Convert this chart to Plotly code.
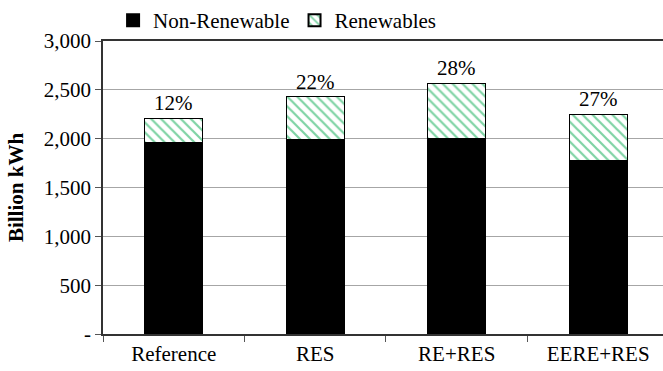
import plotly.graph_objects as go

# Electricity generation by scenario (billion kWh)
categories = ["Reference", "RES", "RE+RES", "EERE+RES"]
non_renewable = [1960, 1990, 2005, 1775]
renewables = [250, 440, 562, 475]
share_labels = ["12%", "22%", "28%", "27%"]

y_tick_vals = [0, 500, 1000, 1500, 2000, 2500, 3000]
y_tick_text = ["-", "500", "1,000", "1,500", "2,000", "2,500", "3,000"]

FONT = "Liberation Serif, Times New Roman, serif"
FS = 21

fig = go.Figure()
fig.add_trace(go.Bar(
    x=categories, y=non_renewable, name="Non-Renewable",
    marker=dict(color="black", line=dict(color="black", width=1)),
))
fig.add_trace(go.Bar(
    x=categories, y=renewables, name="Renewables",
    marker=dict(
        color="white",
        line=dict(color="black", width=1),
        pattern=dict(shape="\\", fgcolor="#00a84a", bgcolor="white",
                     size=7, solidity=0.32),
    ),
))

totals = [a + b for a, b in zip(non_renewable, renewables)]
for cat, tot, lab in zip(categories, totals, share_labels):
    fig.add_annotation(x=cat, y=tot, text=lab, showarrow=False,
                       yanchor="bottom", yshift=1,
                       font=dict(family=FONT, size=FS, color="black"))

fig.update_layout(
    width=663, height=371,
    margin=dict(l=103, r=0, t=39, b=37),
    paper_bgcolor="white", plot_bgcolor="white",
    barmode="stack", bargap=0.59,
    font=dict(family=FONT, size=FS, color="black"),
    showlegend=True,
    legend=dict(orientation="h", traceorder="normal",
                x=0.018, xanchor="left", y=1.07, yanchor="middle",
                font=dict(family=FONT, size=FS, color="black"),
                bgcolor="rgba(0,0,0,0)", itemsizing="constant"),
    xaxis=dict(
        range=[-0.5, 3.458], tickson="boundaries", ticks="outside", ticklen=6,
        tickcolor="#555555", showline=True, linecolor="#333333", linewidth=1.5,
        mirror=True, showgrid=False,
        tickfont=dict(family=FONT, size=FS, color="black"),
    ),
    yaxis=dict(
        range=[0, 3000], tickvals=y_tick_vals, ticktext=y_tick_text,
        ticks="outside", ticklen=6, tickcolor="#555555",
        showline=True, linecolor="#333333", linewidth=1.5,
        showgrid=True, gridcolor="#a6a6a6", gridwidth=1,
        zeroline=False,
        tickfont=dict(family=FONT, size=FS, color="black"),
        title=dict(text="<b>Billion kWh</b>", font=dict(family=FONT, size=FS, color="black"),
                   standoff=14),
    ),
)

fig.write_html("out.html")
